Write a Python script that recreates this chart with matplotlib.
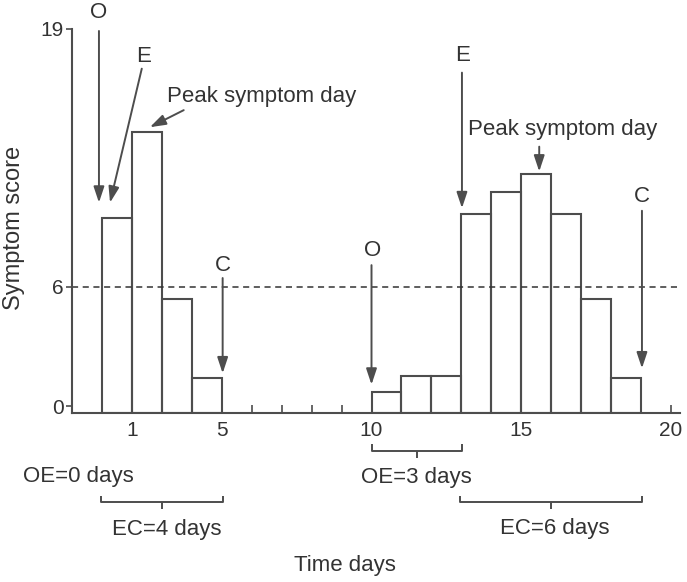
import matplotlib
matplotlib.use("Agg")
import matplotlib.pyplot as plt

plt.rcParams["font.family"] = ["Liberation Sans", "DejaVu Sans"]

# first episode: symptom score per day (bars start at the given day)
days_a = [1, 2, 3, 4]
scores_a = [9.5, 13.8, 5.4, 1.4]

# second episode
days_b = [10, 11, 12, 13, 14, 15, 16, 17, 18]
scores_b = [0.7, 1.5, 1.5, 9.7, 10.8, 11.7, 9.7, 5.4, 1.4]

threshold = 6
y_ticks = [0, 6, 19]
x_tick_days = [2, 5, 10, 15, 20]
x_tick_text = ["1", "5", "10", "15", "20"]

# onset (O), exacerbation (E), cessation (C) and peak day per episode
onset = [1, 10]
exacerb = [1, 13]
cessation = [5, 19]
peak = [2, 15]

LINE = "#4d4d4d"
TEXT = "#333333"
FS = 16

fig = plt.figure(figsize=(6.87, 5.82), dpi=100)
ax = fig.add_axes([0.1048, 0.2904, 0.885, 0.6598])
ymin = -0.35
ax.set_xlim(0, 20.3)
ax.set_ylim(ymin, 19)

for d, s in [(days_a, scores_a), (days_b, scores_b)]:
    ax.bar(d, [v - ymin for v in s], bottom=ymin, width=1, align="edge",
           facecolor="none", edgecolor=LINE, lw=1.5)

ax.axhline(threshold, color="#333333", ls=(0, (4, 3)), lw=1.1)

for sp in ["top", "right"]:
    ax.spines[sp].set_visible(False)
for sp in ["left", "bottom"]:
    ax.spines[sp].set_color(LINE)
    ax.spines[sp].set_linewidth(1.5)
ax.spines["left"].set_bounds(ymin, 19)

ax.set_yticks(y_ticks)
ax.tick_params(axis="y", direction="out", length=4, width=1.2, color=LINE,
               labelsize=15, labelcolor=TEXT, pad=2)
ax.set_xticks(range(1, 21))
ax.set_xticklabels([x_tick_text[x_tick_days.index(d)] if d in x_tick_days else ""
                    for d in range(1, 21)])
ax.tick_params(axis="x", direction="in", length=6, width=1.2, color=LINE,
               labelsize=15, labelcolor=TEXT, pad=6)


def arrow(label, text_xy, tail, tip, ha="center"):
    ax.annotate("", xy=tip, xytext=tail, annotation_clip=False,
                arrowprops=dict(arrowstyle="-|>,head_length=0.6,head_width=0.2",
                                mutation_scale=16, color=LINE, lw=1.4,
                                shrinkA=0, shrinkB=0))
    ax.text(*text_xy, label, ha=ha, va="baseline", fontsize=FS, color=TEXT,
            clip_on=False)


h_a = dict(zip(days_a, scores_a))
h_b = dict(zip(days_b, scores_b))

# first episode
arrow("O", (onset[0] - 0.1, 19.56), (onset[0] - 0.1, 18.9), (onset[0] - 0.1, h_a[onset[0]] + 0.75))
arrow("E", (exacerb[0] + 1.4, 17.34), (exacerb[0] + 1.33, 17.0), (exacerb[0] + 0.27, h_a[exacerb[0]] + 0.75))
arrow("Peak symptom day", (peak[0] + 4.33, 15.32), (peak[0] + 1.73, 14.91), (peak[0] + 0.6, h_a[peak[0]] + 0.25))
arrow("C", (cessation[0] + 0.03, 6.8), (cessation[0] + 0.03, 6.45), (cessation[0] + 0.03, h_a[cessation[0] - 1] + 0.25))

# second episode
arrow("O", (onset[1] + 0.03, 7.56), (onset[1], 7.1), (onset[1], h_b[onset[1]] + 0.38))
arrow("E", (exacerb[1] + 0.03, 17.39), (exacerb[1] + 0.02, 16.8), (exacerb[1] + 0.02, h_b[exacerb[1]] + 0.27))
arrow("Peak symptom day", (peak[1] + 1.38, 13.66), (peak[1] + 0.6, 13.07), (peak[1] + 0.6, h_b[peak[1]] + 0.12))
arrow("C", (cessation[1] + 0.03, 10.28), (cessation[1] + 0.03, 9.84), (cessation[1] + 0.03, h_b[cessation[1] - 1] + 0.5))


def bracket(x0, x1, y, up=0.33, down=0.36):
    xm = (x0 + x1) / 2
    kw = dict(color=LINE, lw=1.4, clip_on=False, solid_capstyle="butt")
    ax.plot([x0, x0, x1, x1], [y + up, y, y, y + up], **kw)
    ax.plot([xm, xm], [y, y - down], **kw)


# OE / EC intervals below the axis
ax.text(0.22, -3.53, f"OE={exacerb[0] - onset[0]} days", ha="center", va="center",
        fontsize=FS, color=TEXT, clip_on=False)
bracket(exacerb[0] - 0.03, cessation[0] + 0.03, -4.84)
ax.text((exacerb[0] + cessation[0]) / 2 + 0.17, -6.2,
        f"EC={cessation[0] - exacerb[0]} days", ha="center", va="center",
        fontsize=FS, color=TEXT, clip_on=False)

bracket(onset[1], exacerb[1] + 0.03, -2.25)
ax.text((onset[1] + exacerb[1]) / 2, -3.58, f"OE={exacerb[1] - onset[1]} days",
        ha="center", va="center", fontsize=FS, color=TEXT, clip_on=False)
bracket(exacerb[1] - 0.03, cessation[1] + 0.03, -4.84)
ax.text((exacerb[1] + cessation[1]) / 2 + 0.13, -6.15,
        f"EC={cessation[1] - exacerb[1]} days", ha="center", va="center",
        fontsize=FS, color=TEXT, clip_on=False)

fig.text(14 / 687, 1 - 228 / 582, "Symptom score", rotation=90, ha="center",
         va="center", fontsize=17, color=TEXT)
fig.text(345 / 687, 1 - 566 / 582, "Time days", ha="center", va="center",
         fontsize=16, color=TEXT)

fig.savefig("out.png", dpi=100)
